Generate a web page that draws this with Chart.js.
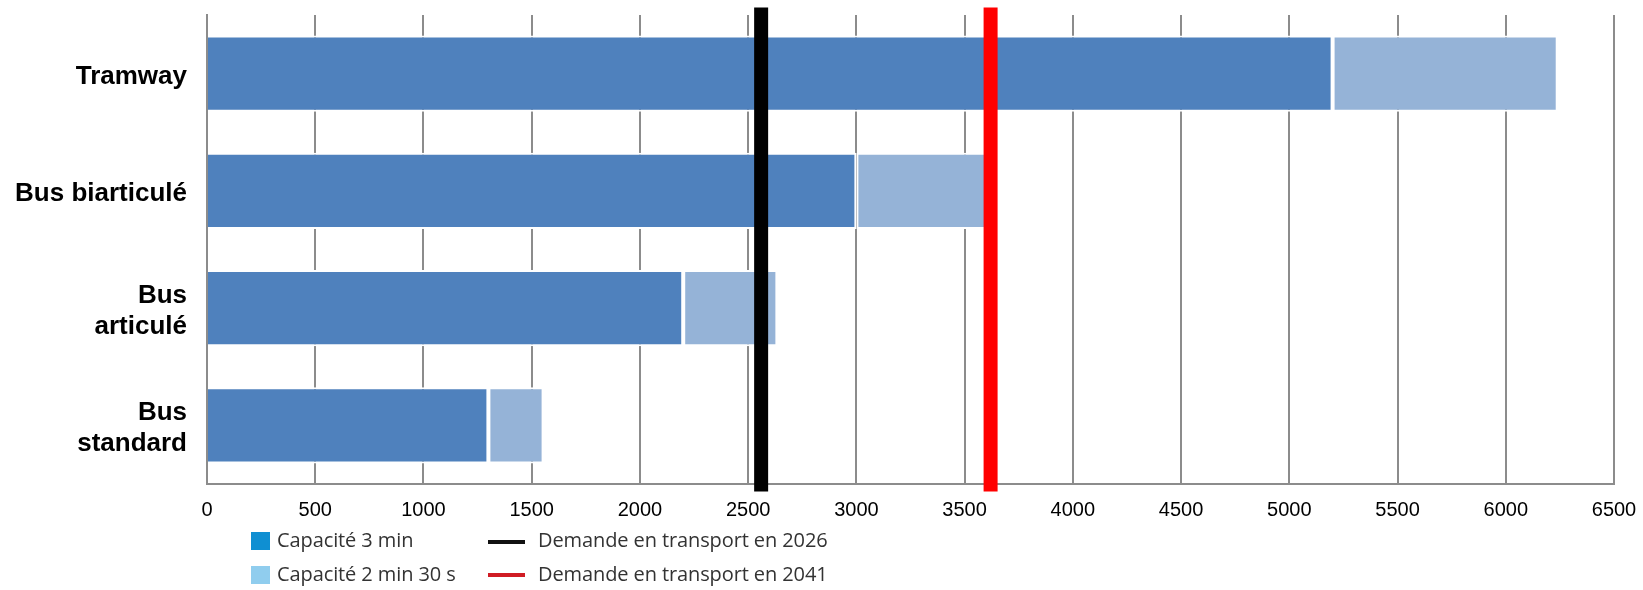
<!DOCTYPE html>
<html>
<head>
<meta charset="utf-8">
<script src="https://cdn.jsdelivr.net/npm/chart.js@4/dist/chart.umd.min.js"></script>
<style>
  html, body { margin: 0; padding: 0; background: #fff; }
  #wrap { position: relative; width: 1643px; height: 590px; }
  canvas { position: absolute; left: 0; top: 0; }
  .lg { position: absolute; font-family: "Open Sans", sans-serif; font-size: 20px; color: #333; letter-spacing: -0.1px; line-height: 24px; white-space: nowrap; }
  .sw { position: absolute; }
</style>
</head>
<body>
<div id="wrap">
  <canvas id="c" width="1643" height="590"></canvas>
  <div class="sw" style="left:251px;top:532px;width:19px;height:18px;background:#0f8fd2"></div>
  <div class="lg" style="left:277px;top:528px">Capacité 3 min</div>
  <div class="sw" style="left:251px;top:566px;width:19px;height:18px;background:#90cdee"></div>
  <div class="lg" style="left:277px;top:562px">Capacité 2 min 30 s</div>
  <div class="sw" style="left:488px;top:540px;width:37px;height:4px;background:#111"></div>
  <div class="lg" style="left:538px;top:528px">Demande en transport en 2026</div>
  <div class="sw" style="left:488px;top:573px;width:37px;height:4px;background:#d01c24"></div>
  <div class="lg" style="left:538px;top:562px">Demande en transport en 2041</div>
</div>
<script>
const categories = ['Tramway', 'Bus biarticulé', ['Bus', 'articulé'], ['Bus', 'standard']];
const capacity3min = [5200, 3000, 2200, 1300];
const capacity2min30 = [6240, 3600, 2635, 1555];
const demandLabels = ['Demande en transport en 2026', 'Demande en transport en 2041'];
const demandValues = [2560, 3620];
const demandColors = ['#000000', '#ff0000'];
const xTicks = [0, 500, 1000, 1500, 2000, 2500, 3000, 3500, 4000, 4500, 5000, 5500, 6000, 6500];

const demandPlugin = {
  id: 'demandLines',
  afterDatasetsDraw(chart) {
    const {ctx, chartArea, scales} = chart;
    ctx.save();
    demandValues.forEach((v, i) => {
      const x = scales.x.getPixelForValue(v);
      ctx.fillStyle = demandColors[i];
      ctx.fillRect(x - 7, chartArea.top - 7.5, 14, chartArea.bottom - chartArea.top + 15);
    });
    ctx.restore();
  }
};

new Chart(document.getElementById('c'), {
  type: 'bar',
  data: {
    labels: categories,
    datasets: [
      {
        label: 'Capacité 3 min',
        data: capacity3min.map(v => [0, v]),
        backgroundColor: '#4f81bd',
        borderColor: '#ffffff',
        borderWidth: 2,
        borderSkipped: 'start',
        barPercentage: 0.65,
        categoryPercentage: 1
      },
      {
        label: 'Capacité 2 min 30 s',
        data: capacity2min30.map((v, i) => [capacity3min[i], v]),
        backgroundColor: '#95b3d7',
        borderColor: '#ffffff',
        borderWidth: 2,
        borderSkipped: false,
        barPercentage: 0.65,
        categoryPercentage: 1
      }
    ]
  },
  options: {
    indexAxis: 'y',
    responsive: false,
    animation: false,
    layout: { padding: { top: 15, right: 29, bottom: 54, left: 0 } },
    plugins: { legend: { display: false }, tooltip: { enabled: false } },
    scales: {
      x: {
        min: 0, max: 6500,
        afterBuildTicks(scale) { scale.ticks = xTicks.map(v => ({ value: v })); },
        afterFit(scale) { scale.paddingLeft = 0; scale.paddingRight = 0; },
        grid: { color: '#8c8c8c', lineWidth: 2, drawTicks: false },
        border: { color: '#8c8c8c', width: 2 },
        ticks: {
          padding: 14, color: '#000', maxRotation: 0, autoSkip: false,
          font: { family: '"Liberation Sans", Arial, sans-serif', size: 20 },
          callback: (v) => String(v)
        }
      },
      y: {
        stacked: true,
        afterFit(scale) { scale.width = 207; scale.paddingTop = 0; scale.paddingBottom = 0; },
        grid: { display: false, drawTicks: false },
        border: { display: true, color: '#8c8c8c', width: 2 },
        ticks: { padding: 20, labelOffset: 3, color: '#000', font: { family: '"Liberation Sans", Arial, sans-serif', size: 26, weight: 'bold', lineHeight: 1.17 } }
      }
    }
  },
  plugins: [demandPlugin]
});
</script>
</body>
</html>
